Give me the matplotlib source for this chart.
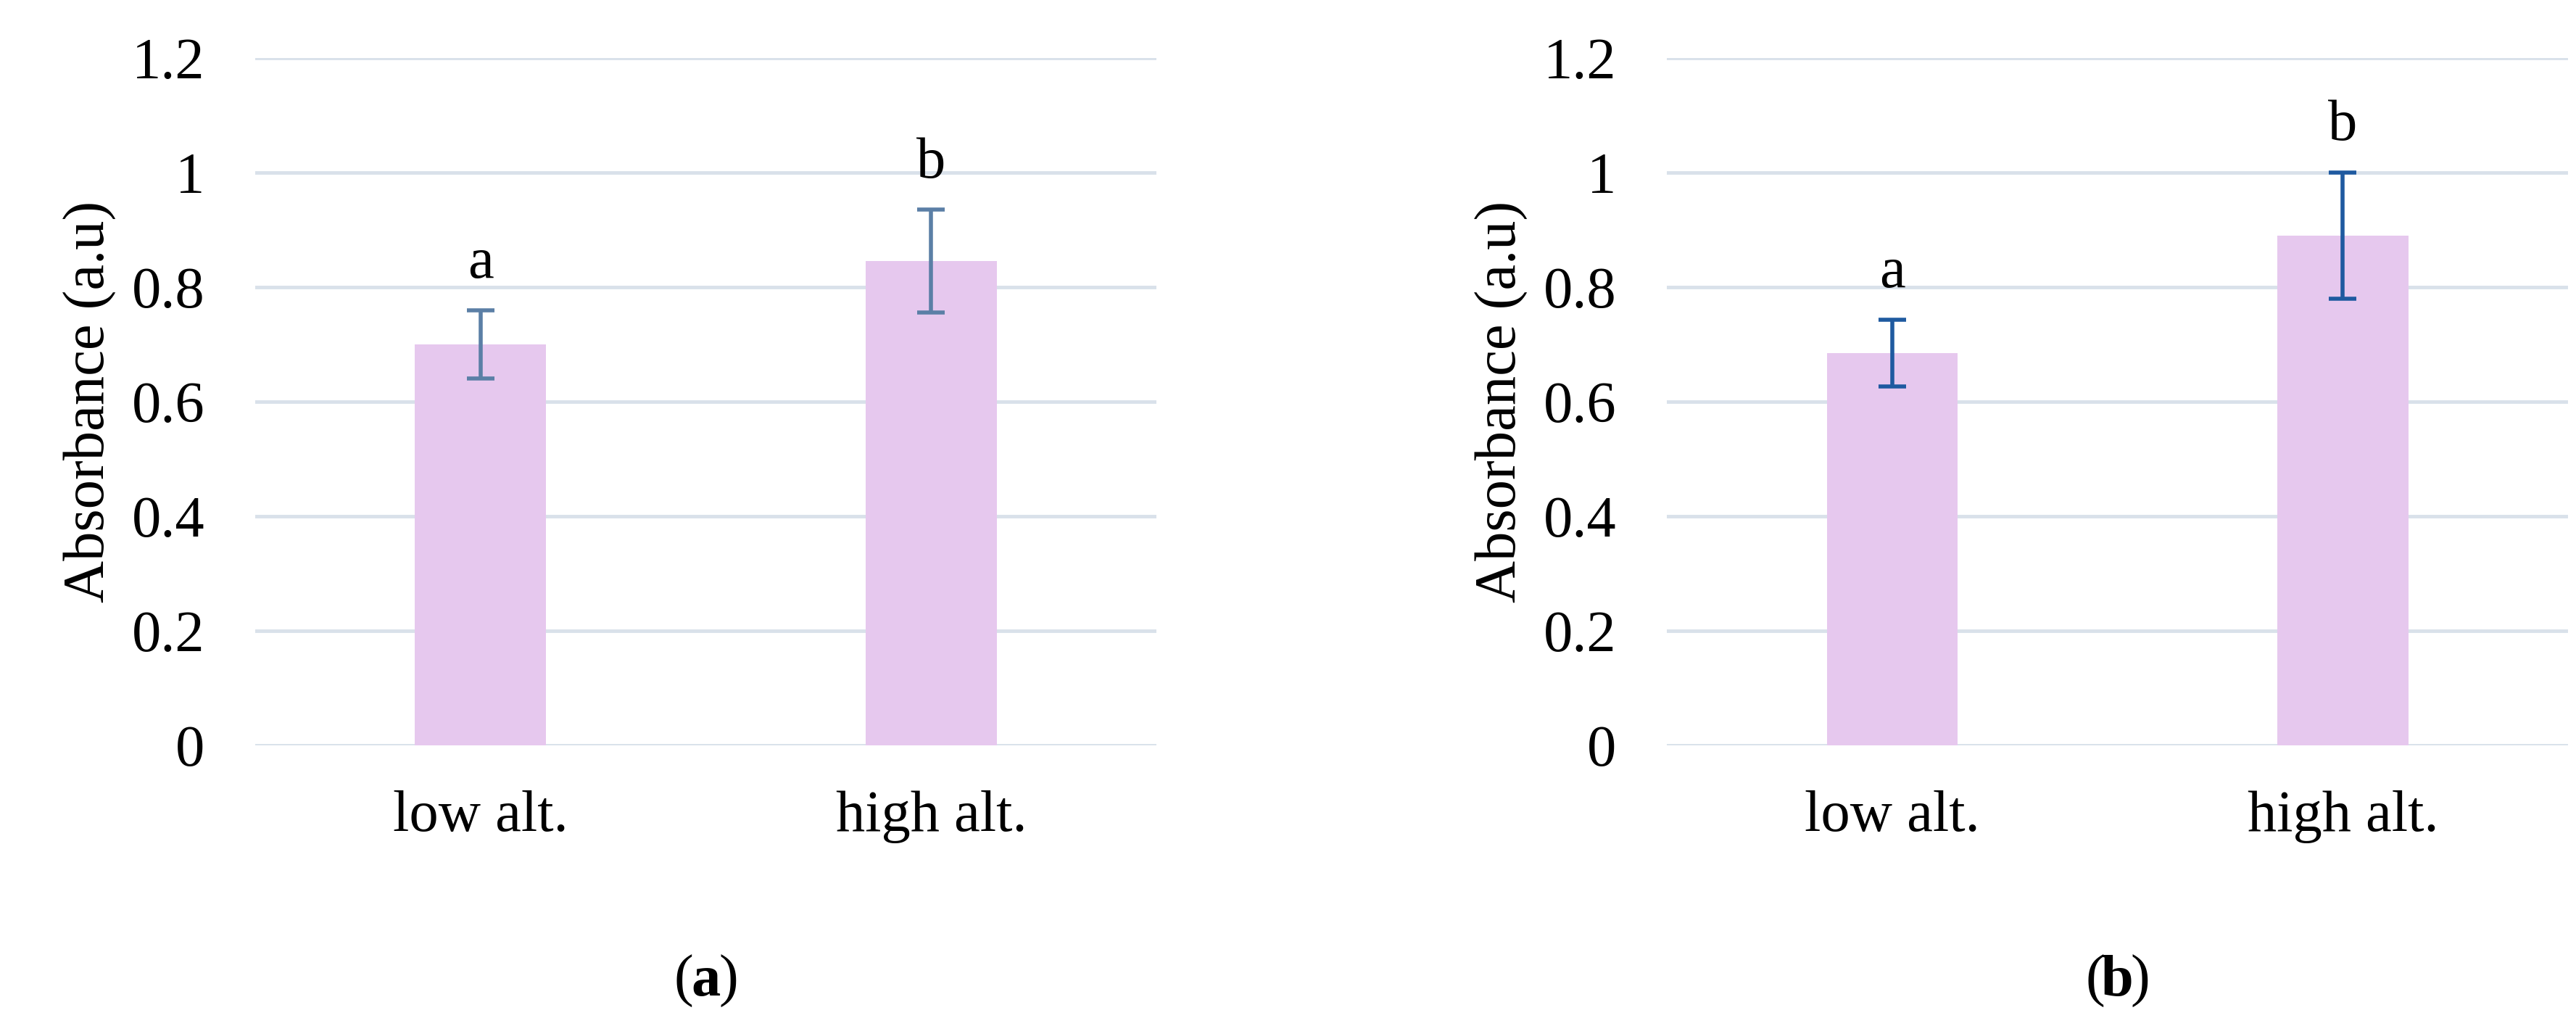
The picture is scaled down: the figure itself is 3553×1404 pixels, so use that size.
import matplotlib.pyplot as plt

categories = ['low alt.', 'high alt.']
values_a = [0.70, 0.845]
errors_a = [0.06, 0.09]
letters_a = ['a', 'b']
values_b = [0.685, 0.89]
errors_b = [0.058, 0.11]
letters_b = ['a', 'b']
yticks = [0, 0.2, 0.4, 0.6, 0.8, 1.0, 1.2]
ytick_labels = ['0', '0.2', '0.4', '0.6', '0.8', '1', '1.2']

plt.rcParams['font.family'] = ['Liberation Serif', 'DejaVu Serif']
fs = 58

fig = plt.figure(figsize=(35.53, 14.04), dpi=100)
panels = [
    (0.099, values_a, errors_a, letters_a, '#5B7FA6', 'a'),
    (0.647, values_b, errors_b, letters_b, '#1F5AA0', 'b'),
]
for left, vals, errs, letters, ecol, tag in panels:
    ax = fig.add_axes([left, 0.268, 0.35, 0.675])
    x = range(len(categories))
    ax.bar(x, vals, width=0.29, color='#E6C8EE', zorder=2)
    ax.errorbar(x, vals, yerr=errs, fmt='none', ecolor=ecol, elinewidth=4,
                capsize=14, capthick=4, zorder=3)
    for xi, v, e, l in zip(x, vals, errs, letters):
        ax.text(xi, v + e + 0.035, l, ha='center', va='bottom', fontsize=fs)
    ax.set_xlim(-0.5, 1.5)
    ax.set_ylim(0, 1.2)
    ax.set_yticks(yticks)
    ax.set_yticklabels(ytick_labels)
    ax.set_xticks(list(x))
    ax.set_xticklabels(categories)
    ax.grid(axis='y', color='#D9E1EA', linewidth=3.5, zorder=0)
    ax.set_axisbelow(True)
    for s in ax.spines.values():
        s.set_visible(False)
    ax.tick_params(length=0, labelsize=fs)
    ax.tick_params(axis='x', pad=45)
    ax.tick_params(axis='y', pad=50)
    ax.set_ylabel('Absorbance (a.u)', fontsize=fs, labelpad=15)

    cx = left + 0.175
    fig.text(cx - 0.005, 0.01, '(', ha='right', va='bottom', fontsize=fs)
    fig.text(cx, 0.01, tag, ha='center', va='bottom', fontsize=fs, fontweight='bold')
    fig.text(cx + 0.005, 0.01, ')', ha='left', va='bottom', fontsize=fs)

fig.savefig('out.png', dpi=100)
